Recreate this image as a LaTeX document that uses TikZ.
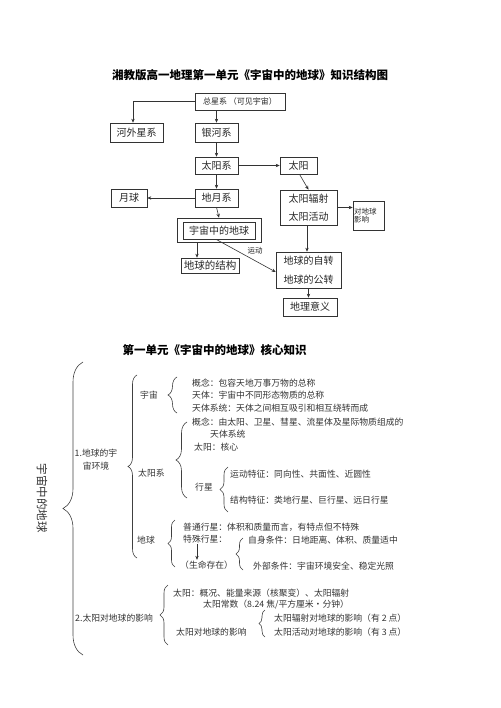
\documentclass[tikz,border=0pt]{standalone}
\usepackage{fontspec}
\setmainfont{Noto Sans CJK SC}
\usetikzlibrary{arrows.meta,decorations.pathreplacing,fit}
\begin{document}
\begin{tikzpicture}[x=1pt,y=-1pt,
  box/.style={draw=black!80, line width=0.6pt, inner sep=0pt, font=\fontsize{10}{12}\selectfont, text=black!85, align=center},
  arr/.style={draw=black!80, line width=0.6pt, -{Stealth[length=4pt,width=3.4pt]}},
  txt/.style={anchor=west, inner sep=0pt, font=\fontsize{8.8}{10}\selectfont, text=black!80, text height=0.8em, text depth=0.2em},
  brc/.style={draw=black!75, line width=0.6pt, decorate, decoration={brace, amplitude=#1}},
  ttl/.style={font=\fontsize{11.5}{13}\selectfont\bfseries, inner sep=0pt, text=black}
]
\useasboundingbox (0,0) rectangle (500,708);

% ---------- titles ----------
\node[ttl] (title1) at (250,75) {湘教版高一地理第一单元《宇宙中的地球》知识结构图};
\node[ttl] (title2) at (214.5,350) {第一单元《宇宙中的地球》核心知识};

% ---------- structure chart ----------
\node[box, minimum width=90pt, minimum height=17pt, font=\fontsize{8}{9}\selectfont] (zxx) at (240,101.5) {总星系 （可见宇宙）};
\node[box, minimum width=53pt, minimum height=19pt] (hwxx) at (136.5,132.5) {河外星系};
\node[box, minimum width=43pt, minimum height=19pt] (yhx) at (216.5,132.5) {银河系};
\node[box, minimum width=43pt, minimum height=17pt] (tyx) at (216.5,165.5) {太阳系};
\node[box, minimum width=37pt, minimum height=17pt] (ty) at (298.5,165.5) {太阳};
\node[box, minimum width=43pt, minimum height=18pt] (dyx) at (216.5,198) {地月系};
\node[box, minimum width=36pt, minimum height=18pt] (yq) at (129,198) {月球};
\node[box, minimum width=57pt, minimum height=35pt, font=\fontsize{10}{18}\selectfont] (fs) at (308.5,207.5) {太阳辐射\\太阳活动};
\node[box, minimum width=31pt, minimum height=29pt, text width=29pt, align=left, inner sep=1pt, font=\fontsize{7.5}{8.5}\selectfont] (dqyx) at (368.5,215.5) {对地球\\影响};
\node[box, minimum width=72pt, minimum height=17pt] (yzdq) at (219,230.5) {宇宙中的地球};
\node[draw=black!80, line width=0.6pt, inner sep=0pt, fit={(177,218) (261,242)}] (yzdqo) {};
\node[box, minimum width=58pt, minimum height=15pt, font=\fontsize{10.5}{12}\selectfont] (jg) at (210,265.5) {地球的结构};
\node[box, minimum width=65pt, minimum height=36pt, font=\fontsize{10}{18.5}\selectfont] (zz) at (308.5,270) {地球的自转\\地球的公转};
\node[box, minimum width=54pt, minimum height=18pt] (yy) at (310,307) {地理意义};
\node[font=\fontsize{7.5}{9}\selectfont, text=black!85, inner sep=0pt] (yd) at (255,251) {运动};

\draw[arr] (zxx.west) -| ([xshift=-3.5pt]hwxx.north);
\draw[arr] (yhx.north |- zxx.south) -- (yhx.north);
\draw[arr] (yhx.south) -- (tyx.north);
\draw[arr] (tyx.east) -- (ty.west);
\draw[arr] ([xshift=1pt]ty.south) -- (fs.north);
\draw[arr] (tyx.south) -- (dyx.north);
\draw[arr] (dyx.west) -- (yq.east);
\draw[arr] (fs.east) -- (fs.east -| dqyx.west);
\draw[arr] (dyx.south) -- (yzdqo.north);
\draw[arr] ([xshift=-22pt]yzdqo.south) -- ([xshift=-13pt]jg.north);
\draw[arr] ([xshift=-3pt]yzdq.south) -- ([yshift=-2pt]zz.west);
\draw[arr] ([xshift=-1.5pt]fs.south) -- ([xshift=-1.5pt]zz.north);
\draw[arr] (zz.south) -- (zz.south |- yy.north);

% ---------- core knowledge ----------
\node[rotate=-90, inner sep=0pt, font=\fontsize{11.5}{13}\selectfont, text=black!80] (v) at (42,498) {宇宙中的地球};
\node[txt, anchor=center, align=center, font=\fontsize{8.8}{13}\selectfont] (s1) at (96,466) {1.地球的宇\\宙环境};
\node[txt] (s2) at (75,618) {2.太阳对地球的影响};

\node[txt] (lyz) at (140,395) {宇宙};
\node[txt] (c1) at (192,383) {概念：包容天地万事万物的总称};
\node[txt] (c2) at (192,395) {天体：宇宙中不同形态物质的总称};
\node[txt] (c3) at (192,408) {天体系统：天体之间相互吸引和相互绕转而成};
\node[txt] (c4) at (192,422) {概念：由太阳、卫星、彗星、流星体及星际物质组成的};
\node[txt] (c5) at (210,434) {天体系统};
\node[txt] (c6) at (194,447) {太阳：核心};
\node[txt] (ltyx) at (138,473) {太阳系};
\node[txt] (lxx) at (195,487) {行星};
\node[txt] (c7) at (230,474) {运动特征：同向性、共面性、近圆性};
\node[txt] (c8) at (230,500) {结构特征：类地行星、巨行星、远日行星};
\node[txt] (ldq) at (137,540) {地球};
\node[txt] (c9) at (183,527) {普通行星：体积和质量而言，有特点但不特殊};
\node[txt] (c10) at (183,539) {特殊行星：};
\node[txt] (c11) at (180,565) {（生命存在）};
\node[txt] (c12) at (248,540) {自身条件：日地距离、体积、质量适中};
\node[txt] (c13) at (253,566) {外部条件：宇宙环境安全、稳定光照};
\node[txt] (c14) at (173,593) {太阳：概况、能量来源（核聚变）、太阳辐射};
\node[txt] (c15) at (203,604) {太阳常数（8.24 焦/平方厘米·分钟）};
\node[txt] (c16) at (176,632) {太阳对地球的影响};
\node[txt] (c17) at (274,618) {太阳辐射对地球的影响（有 2 点）};
\node[txt] (c18) at (274,632) {太阳活动对地球的影响（有 3 点）};

\draw[arr] ([xshift=14pt]c10.south west) -- ([xshift=17pt]c11.north west);

% braces (drawn bottom to top so the tip points left)
\coordinate (b0a) at (83,655);  \coordinate (b0b) at (83,362);
\coordinate (b1a) at (137,558); \coordinate (b1b) at (137,375);
\coordinate (b2a) at (177,413); \coordinate (b2b) at (177,377);
\coordinate (b3a) at (187,498); \coordinate (b3b) at (187,422);
\coordinate (b4a) at (228,512); \coordinate (b4b) at (228,467);
\coordinate (b5a) at (175,567); \coordinate (b5b) at (175,520);
\coordinate (b6a) at (243,570); \coordinate (b6b) at (243,538);
\coordinate (b7a) at (168,645); \coordinate (b7b) at (168,585);
\coordinate (b8a) at (265,637); \coordinate (b8b) at (265,610);
\draw[brc=20pt] (b0a) -- (b0b);
\draw[brc=9pt] (b1a) -- (b1b);
\draw[brc=9pt] (b2a) -- (b2b);
\draw[brc=11pt] (b3a) -- (b3b);
\draw[brc=8pt] (b4a) -- (b4b);
\draw[brc=7pt] (b5a) -- (b5b);
\draw[brc=7pt] (b6a) -- (b6b);
\draw[brc=8pt] (b7a) -- (b7b);
\draw[brc=6pt] (b8a) -- (b8b);
\end{tikzpicture}
\end{document}
